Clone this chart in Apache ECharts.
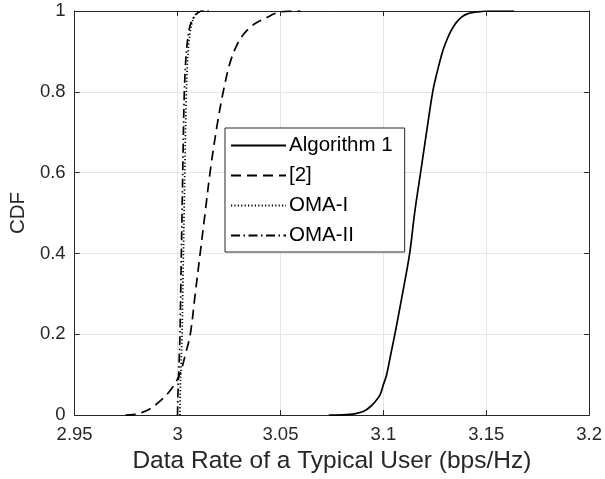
<!DOCTYPE html>
<html><head><meta charset="utf-8">
<script src="https://cdn.jsdelivr.net/npm/echarts@6/dist/echarts.min.js"></script>
<style>html,body{margin:0;padding:0;background:#fff}#c{width:605px;height:479px}</style>
</head><body><div id="c"></div>
<script>
var seriesNames = ['Algorithm 1', '[2]', 'OMA-I', 'OMA-II'];
var alg1X = [3.0735, 3.080, 3.084, 3.0875, 3.091, 3.0935, 3.0958, 3.0984, 3.1, 3.1016, 3.1036, 3.1056, 3.1093, 3.1128, 3.1152, 3.1181, 3.121, 3.124, 3.1262, 3.1288, 3.1310, 3.1328, 3.1352, 3.138, 3.1415, 3.146, 3.151, 3.1636];
var alg1Y = [0, 0.0005, 0.002, 0.005, 0.011, 0.02, 0.032, 0.05, 0.075, 0.1, 0.15, 0.2, 0.3, 0.4, 0.5, 0.6, 0.7, 0.8, 0.85, 0.9, 0.93, 0.95, 0.97, 0.985, 0.994, 0.998, 1, 1];
var ref2X = [2.9748, 2.979, 2.9825, 2.9858, 2.989, 2.9927, 2.996, 2.999, 3.0014, 3.0038, 3.0062, 3.0086, 3.011, 3.0134, 3.0158, 3.019, 3.0222, 3.0254, 3.0286, 3.032, 3.0358, 3.0398, 3.0438, 3.047, 3.0502, 3.0598];
var ref2Y = [0, 0.002, 0.006, 0.013, 0.024, 0.04, 0.058, 0.08, 0.105, 0.15, 0.2, 0.3, 0.4, 0.5, 0.6, 0.71, 0.8, 0.87, 0.913, 0.942, 0.962, 0.975, 0.985, 0.993, 0.998, 1];
var oma1X = [3.0012, 3.0013, 3.0017, 3.0022, 3.0027, 3.0032, 3.0037, 3.0042, 3.0047, 3.0053, 3.0062, 3.007, 3.0078, 3.0086, 3.0095, 3.0106, 3.013];
var oma1Y = [0, 0.05, 0.12, 0.2, 0.35, 0.5, 0.65, 0.78, 0.86, 0.91, 0.95, 0.97, 0.982, 0.99, 0.996, 1, 1];
var oma2X = [3.0, 3.0002, 3.0007, 3.0012, 3.0017, 3.0022, 3.0027, 3.0032, 3.0038, 3.0045, 3.0055, 3.0065, 3.0076, 3.0088, 3.01, 3.0118, 3.016];
var oma2Y = [0, 0.05, 0.12, 0.2, 0.35, 0.5, 0.65, 0.78, 0.86, 0.91, 0.95, 0.97, 0.982, 0.99, 0.996, 1, 1];
var xTicks = [2.95, 3, 3.05, 3.1, 3.15, 3.2];
var yTicks = [0, 0.2, 0.4, 0.6, 0.8, 1];

function zip(xs, ys){ return xs.map(function(x,i){return [x, ys[i]];}); }
var FONT = '"Liberation Sans", Arial, sans-serif';
var TXT = '#262626';
var AX = '#262626';

var chart = echarts.init(document.getElementById('c'), null, {renderer:'canvas'});
function mkSeries(name, data, type){
  return {
    name: name, type: 'line', data: data, symbol: 'none', showSymbol: false,
    smooth: 0.35, xAxisIndex: 0, yAxisIndex: 0,
    lineStyle: {color: '#000', width: 1.7, type: type},
    itemStyle: {color: '#000'}, emphasis: {disabled: true}, animation: false, z: 3
  };
}
function fmt(list){ return function(v){ var t = list.find(function(a){return Math.abs(a-v)<1e-9;}); return t === undefined ? '' : String(t); }; }
chart.setOption({
  animation: false,
  backgroundColor: '#fff',
  grid: {left: 71, right: 13, top: 11, bottom: 63, containLabel: false},
  legend: {
    orient: 'vertical', left: 225, top: 128,
    data: seriesNames,
    itemWidth: 55, itemHeight: 14, itemGap: 9,
    padding: [7, 12, 6, 5],
    borderColor: '#262626', borderWidth: 1, backgroundColor: '#fff',
    itemStyle: {opacity: 0, borderWidth: 0},
    textStyle: {fontFamily: FONT, fontSize: 20.5, color: '#000', padding: [0, 0, 0, -2]},
    selectedMode: false
  },
  xAxis: [{
    type: 'value', min: 2.95, max: 3.2, interval: 0.05, position: 'bottom',
    name: 'Data Rate of a Typical User (bps/Hz)', nameLocation: 'middle', nameGap: 31,
    nameTextStyle: {fontFamily: FONT, fontSize: 24.5, color: TXT},
    axisLine: {show: true, onZero: false, lineStyle: {color: AX, width: 1}},
    axisTick: {show: true, inside: true, length: 5, lineStyle: {color: AX}},
    axisLabel: {fontFamily: FONT, fontSize: 18.5, color: TXT, margin: 10, formatter: fmt(xTicks)},
    splitLine: {show: true, lineStyle: {color: '#e6e6e6', width: 1}}
  }, {
    type: 'value', min: 2.95, max: 3.2, interval: 0.05, position: 'top',
    axisLine: {show: true, onZero: false, lineStyle: {color: AX, width: 1}},
    axisTick: {show: true, inside: true, length: 5, lineStyle: {color: AX}},
    axisLabel: {show: false}, splitLine: {show: false}
  }],
  yAxis: [{
    type: 'value', min: 0, max: 1, interval: 0.2, position: 'left',
    name: 'CDF', nameLocation: 'middle', nameGap: 41, nameRotate: 90,
    nameTextStyle: {fontFamily: FONT, fontSize: 20.5, color: TXT},
    axisLine: {show: true, onZero: false, lineStyle: {color: AX, width: 1}},
    axisTick: {show: true, inside: true, length: 5, lineStyle: {color: AX}},
    axisLabel: {fontFamily: FONT, fontSize: 18.5, color: TXT, margin: 9, formatter: fmt(yTicks)},
    splitLine: {show: true, lineStyle: {color: '#e6e6e6', width: 1}}
  }, {
    type: 'value', min: 0, max: 1, interval: 0.2, position: 'right',
    axisLine: {show: true, onZero: false, lineStyle: {color: AX, width: 1}},
    axisTick: {show: true, inside: true, length: 5, lineStyle: {color: AX}},
    axisLabel: {show: false}, splitLine: {show: false}
  }],
  series: [
    mkSeries(seriesNames[0], zip(alg1X, alg1Y), 'solid'),
    mkSeries(seriesNames[1], zip(ref2X, ref2Y), [10, 6]),
    mkSeries(seriesNames[2], zip(oma1X, oma1Y), [1.2, 2.2]),
    mkSeries(seriesNames[3], zip(oma2X, oma2Y), [9, 3.5, 1.5, 3.5])
  ]
});
</script></body></html>
